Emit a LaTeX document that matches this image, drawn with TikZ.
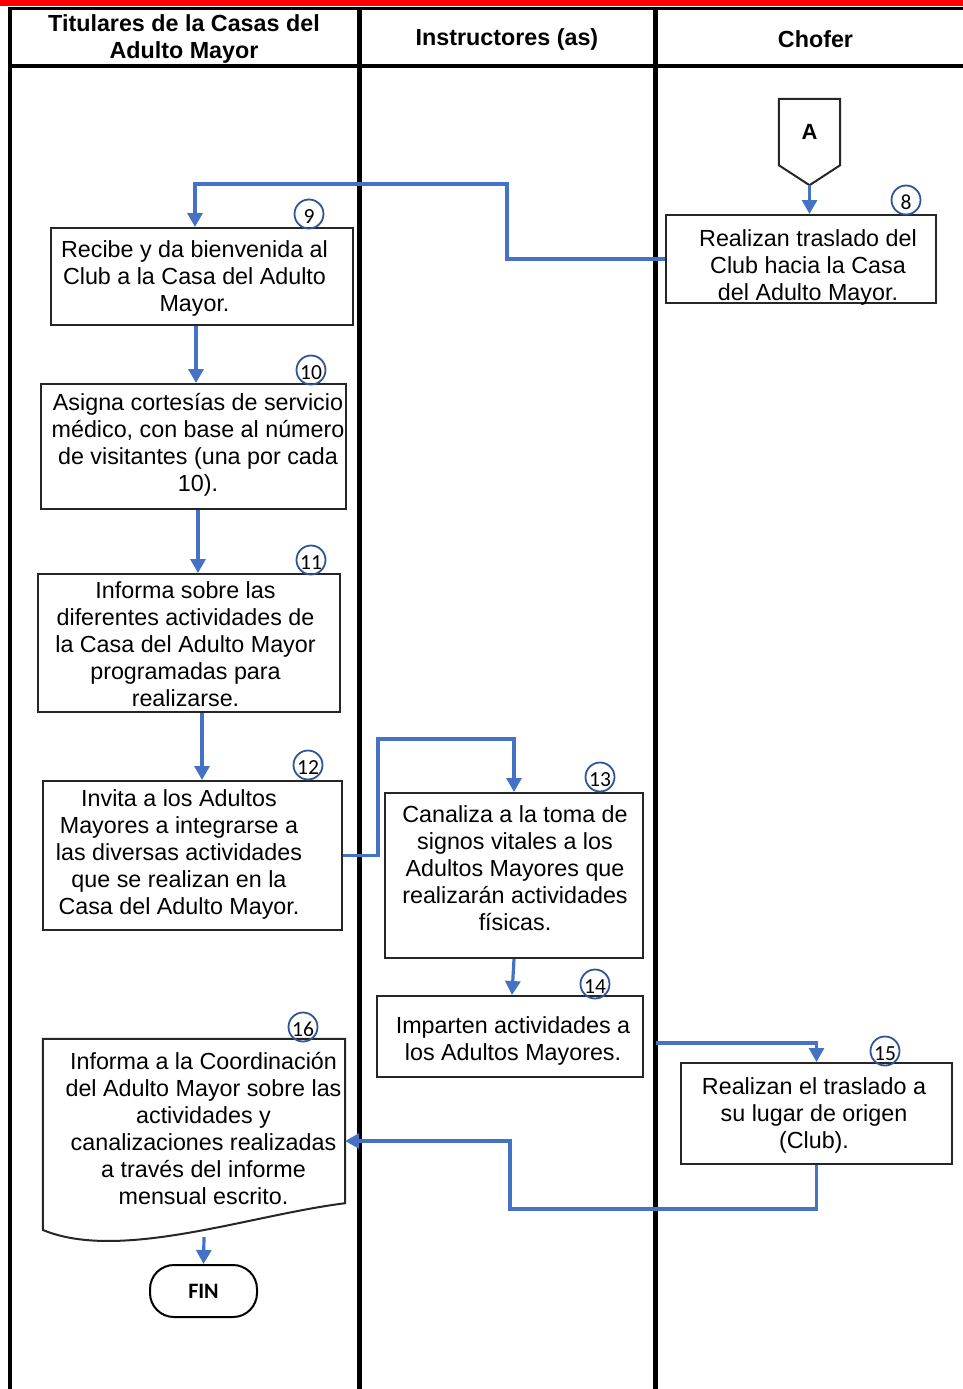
\documentclass[tikz,border=0pt]{standalone}
\usepackage{fontspec}
\setmainfont{Liberation Sans}
\newfontfamily\numfont{Carlito}
\usetikzlibrary{arrows.meta}
\definecolor{color_flow}{HTML}{4472C4}
\definecolor{color_ring}{HTML}{2F5597}
\definecolor{color_frame}{HTML}{262626}
\definecolor{color_title}{HTML}{FF0000}
\tikzset{
  lane_line/.style={draw=black, line width=5pt},
  head_line/.style={draw=black, line width=4pt},
  head_label/.style={font=\bfseries\fontsize{23.3}{27}\selectfont, align=center, inner sep=0pt},
  step_box/.style={draw=color_frame, line width=2pt, fill=white, inner sep=0pt},
  step_text/.style={font=\fontsize{23.3}{27}\selectfont, align=center, inner sep=0pt},
  step_num/.style={circle, draw=color_ring, line width=1.8pt, minimum size=29pt, inner sep=0pt,
    text height=19pt, text depth=0pt, font=\numfont\fontsize{21.5}{21.5}\selectfont},
  off_page/.style={inner sep=0pt, font=\bfseries\fontsize{22}{22}\selectfont},
  end_box/.style={draw=black, line width=2pt, rounded corners=24pt, minimum width=107pt, minimum height=52pt, font=\numfont\bfseries\fontsize{22}{22}\selectfont},
  flow_arrow/.style={-{Triangle[length=14pt, width=15pt]}, draw=color_flow, line width=3.2pt},
}

\begin{document}
\begin{tikzpicture}[x=1pt, y=-1pt]
    \useasboundingbox (0,0) rectangle (963,1389);
    % title strip and swimlane grid
    \fill[color_title] (0,0) rectangle (963,6);
    \draw[head_line, line width=3pt] (8,9) -- (963,9);
    \draw[head_line] (8,66) -- (963,66);
    \draw[lane_line, line width=4pt] (10,8) -- (10,1389);
    \draw[lane_line] (359,8) -- (359,1389);
    \draw[lane_line] (655,8) -- (655,1389);
    \node[head_label] (lane_titular) at (184,38.5) {Titulares de la Casas del\\Adulto Mayor};
    \node[head_label] (lane_instructor) at (507,39) {Instructores (as)};
    \node[head_label] (lane_chofer) at (815.5,39) {Chofer};

    % off-page connector A
    \node[off_page, minimum width=61pt, minimum height=66pt] (con_a) at (809.5,132) {\raisebox{-2pt}{A}};
    \draw[color_frame, line width=2pt] (con_a.north west) -- (con_a.north east) -- (con_a.south east)
      -- ([yshift=-20pt]con_a.south) -- (con_a.south west) -- cycle;
    \coordinate (con_a_tip) at ([yshift=-20pt]con_a.south);

    % process boxes
    \node[step_box, minimum width=270pt, minimum height=88pt] (b8) at (801,259) {};
    \node[step_text] (t8) at (808,267) {Realizan traslado del\\Club hacia la Casa\\del Adulto Mayor.};
    \node[step_box, minimum width=302pt, minimum height=97pt] (b9) at (202,276.5) {};
    \node[step_text] (t9) at (194.5,278) {Recibe y da bienvenida al\\Club a la Casa del Adulto\\Mayor.};
    \node[step_box, minimum width=305pt, minimum height=125pt] (b10) at (193.5,446.5) {};
    \node[step_text] (t10) at (198,444.5) {Asigna cortesías de servicio\\médico, con base al número\\de visitantes (una por cada\\10).};
    \node[step_box, minimum width=302pt, minimum height=138pt] (b11) at (189,643) {};
    \node[step_text] (t11) at (185.5,644) {Informa sobre las\\diferentes actividades de\\la Casa del Adulto Mayor\\programadas para\\realizarse.};
    \node[step_box, minimum width=299pt, minimum height=149pt] (b12) at (192.5,855.5) {};
    \node[step_text] (t12) at (179,854) {Invita a los Adultos\\Mayores a integrarse a\\las diversas actividades\\que se realizan en la\\Casa del Adulto Mayor.};
    \node[step_box, minimum width=258pt, minimum height=165pt] (b13) at (514,875.5) {};
    \node[step_text] (t13) at (515,868.5) {Canaliza a la toma de\\signos vitales a los\\Adultos Mayores que\\realizarán actividades\\físicas.};
    \node[step_box, minimum width=266pt, minimum height=81pt] (b14) at (510,1036.5) {};
    \node[step_text] (t14) at (513,1040.5) {Imparten actividades a\\los Adultos Mayores.};
    \node[step_box, minimum width=271pt, minimum height=101pt] (b15) at (816.5,1113.5) {};
    \node[step_text] (t15) at (814,1115) {Realizan el traslado a\\su lugar de origen\\(Club).};

    % document shape for the monthly report
    \node[minimum width=302pt, minimum height=164pt, inner sep=0pt] (b16) at (194,1121) {};
    \draw[color_frame, line width=2pt, fill=white] (b16.north west) -- (b16.north east) -- (b16.south east)
      .. controls (250,1215) and (120,1262) .. (43,1230) -- cycle;
    \node[step_text] (t16) at (203.5,1129) {Informa a la Coordinación\\del Adulto Mayor sobre las\\actividades y\\canalizaciones realizadas\\a través del informe\\mensual escrito.};
    \coordinate (doc_foot) at (204,1237);

    \node[end_box] (fin) at (203.5,1291) {FIN};

    % flow connectors
    \draw[flow_arrow] (con_a_tip) -- (con_a_tip |- b8.north);
    \draw[flow_arrow] (b8.west) -| (507,184) -| ([xshift=-7pt]b9.north);
    \draw[flow_arrow] ([xshift=-6pt]b9.south) -- ([xshift=2.5pt]b10.north);
    \draw[flow_arrow] ([xshift=4.5pt]b10.south) -- ([xshift=9pt]b11.north);
    \draw[flow_arrow] ([xshift=13pt]b11.south) -- ([xshift=9.5pt]b12.north);
    \draw[flow_arrow] (b12.east) -| (378,739) -| (b13.north);
    \draw[flow_arrow] (b13.south) -- ([xshift=2pt]b14.north);
    \draw[flow_arrow] ([xshift=12pt, yshift=-6.5pt]b14.east) -| (b15.north);
    \draw[flow_arrow] (b15.south) |- (510,1209) |- ([yshift=-20pt]b16.east);
    \draw[flow_arrow] (doc_foot) -- (fin.north);

    % step numbers
    \node[step_num] (n8) at (906,200) {8};
    \node[step_num] (n9) at (309,214) {9};
    \node[step_num] (n10) at (311,370) {10};
    \node[step_num] (n11) at (311,560) {11};
    \node[step_num] (n12) at (308,765) {12};
    \node[step_num] (n13) at (600,777) {13};
    \node[step_num] (n14) at (595,984) {14};
    \node[step_num] (n15) at (885,1051) {15};
    \node[step_num] (n16) at (303,1027) {16};
  \end{tikzpicture}
\end{document}
